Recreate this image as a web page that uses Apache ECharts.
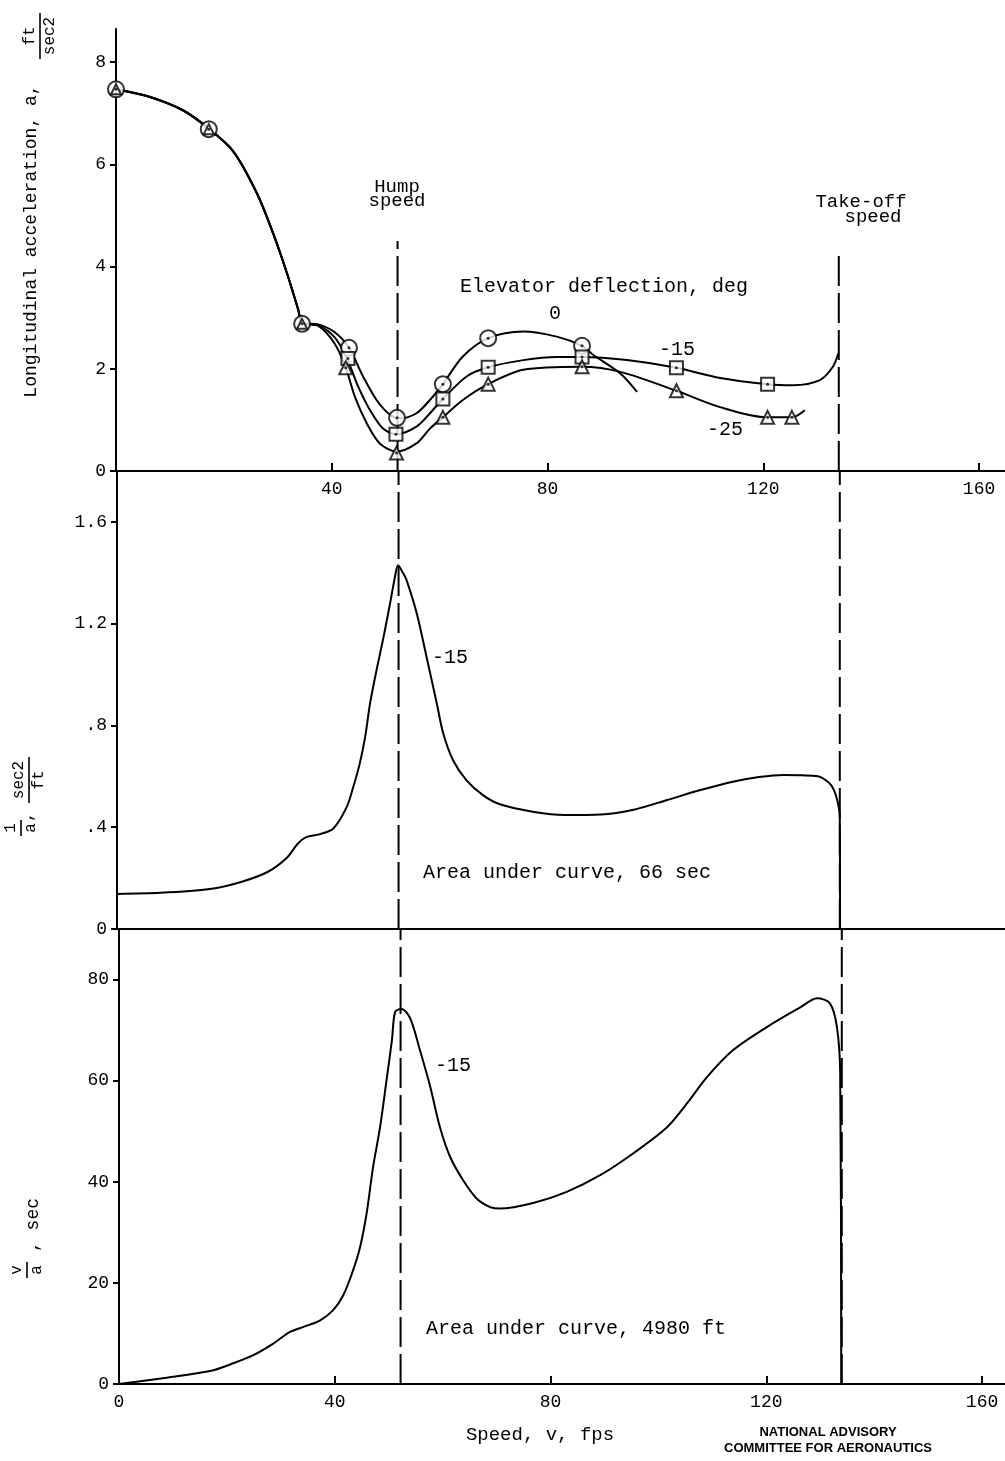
<!DOCTYPE html>
<html>
<head>
<meta charset="utf-8">
<script src="https://cdn.jsdelivr.net/npm/echarts@6/dist/echarts.min.js"></script>
<style>
html,body{margin:0;padding:0;background:#fff;}
#chart{width:1005px;height:1461px;}
</style>
</head>
<body>
<div id="chart"></div>
<script>
// ---------- DATA ----------
const HUMP_SPEED = 52.2;
const TAKEOFF_SPEED = 134;

// top panel: longitudinal acceleration a (ft/sec^2) vs speed v (fps)
const sharedCurve = [[0,7.47],[6.3,7.32],[12.4,7.06],[17.2,6.70],[21.7,6.26],[26.1,5.44],[29.1,4.66],[31.7,3.87],[33.8,3.15],[34.5,2.9]];
const curveDeg0 = [[37.5,2.87],[40.5,2.72],[43.2,2.41],[45.8,1.85],[48.3,1.39],[50.8,1.10],[52.6,1.03],[55.7,1.13],[58.2,1.39],[60.6,1.70],[64.3,2.24],[69,2.6],[75.5,2.73],[81.7,2.63],[86.4,2.45],[88.5,2.27],[93.5,1.91],[96.6,1.55]];
const curveDeg15 = [[37.5,2.85],[40.5,2.62],[42.8,2.21],[44.9,1.65],[47.1,1.19],[49.5,0.83],[52,0.72],[55.7,0.87],[58.2,1.13],[60.6,1.41],[65,1.85],[69,2.03],[75.5,2.17],[81.7,2.23],[86.4,2.23],[94.7,2.17],[103.9,2.02],[112,1.82],[120.8,1.70],[125.5,1.68],[130.5,1.78],[132.9,2.04],[133.9,2.3]];
const curveDeg25 = [[37.5,2.84],[40.5,2.5],[42.6,2.02],[44.3,1.45],[46.5,0.93],[48.9,0.54],[52,0.38],[55.7,0.54],[58.2,0.83],[60.6,1.05],[64.3,1.39],[69,1.70],[75.5,1.98],[86.4,2.04],[93.5,1.94],[103.9,1.57],[112,1.25],[120.8,1.05],[125.3,1.05],[127.7,1.19]];

const pointsDeg0 = [[0,7.47],[17.2,6.69],[34.5,2.88],[43.2,2.41],[52.1,1.04],[60.6,1.70],[69,2.6],[86.4,2.45]];
const pointsDeg15 = [[43,2.2],[51.9,0.72],[60.6,1.41],[69,2.03],[86.4,2.23],[103.9,2.02],[120.8,1.70]];
const pointsDeg25 = [[0,7.47],[17.2,6.69],[34.5,2.88],[42.6,2.02],[52,0.35],[60.6,1.05],[69,1.70],[86.4,2.04],[103.9,1.57],[120.8,1.05],[125.3,1.05]];
const sharedPointSpeeds = [0,17.2,34.5];

// middle panel: 1/a (sec^2/ft), -15 deg
const invAccel = [[0,0.138],[8,0.142],[17.2,0.157],[23,0.185],[28,0.225],[31.5,0.28],[33.5,0.335],[35,0.36],[37.5,0.372],[40.1,0.395],[42.6,0.48],[43.8,0.558],[45,0.65],[46,0.754],[46.9,0.885],[48.1,1.016],[49.4,1.146],[50.6,1.277],[51.5,1.38],[52.1,1.43],[53,1.40],[53.7,1.37],[55.6,1.238],[57.4,1.068],[59.3,0.885],[60.5,0.767],[62.3,0.663],[64.8,0.584],[67.9,0.525],[71,0.49],[77.3,0.46],[83,0.448],[89.7,0.45],[96,0.47],[102,0.507],[108,0.545],[114.4,0.58],[119,0.597],[123.6,0.605],[127,0.604],[129.9,0.60],[132,0.575],[132.9,0.547],[133.6,0.5],[134,0.44],[134.05,0]];

// bottom panel: v/a (sec), -15 deg
const velOverAccel = [[0,0],[8.8,1.25],[16.9,2.57],[21.2,4.1],[24.9,5.7],[28.6,8.0],[31.7,10.3],[34.2,11.3],[37.3,12.6],[39.7,14.6],[41.6,17.6],[43.4,22.5],[44.7,27.1],[45.9,33.7],[47.1,42.9],[48.4,50.8],[49.6,60.1],[50.6,68],[51.2,73.6],[52.4,74.2],[54,72.3],[55.8,66],[57.7,58.8],[59.5,50.8],[61.4,44.9],[63.8,40.3],[66.3,36.7],[68.8,35],[70.6,34.7],[76.8,35.8],[83,38],[89.2,41.3],[95.3,45.6],[101.6,50.8],[105.3,55.5],[109,60.7],[113.8,66],[120.1,70.6],[126.3,74.5],[129.4,76.3],[131.8,75.3],[133.1,70.6],[133.7,61.5],[133.9,0]];

// tick labels
const xTicks = [40,80,120,160];
const xLabelsTop = [40,80,120,160];
const xLabelsBottom = [0,40,80,120,160];
const yTicksTop = [0,2,4,6,8];
const yTicksMid = [0,0.4,0.8,1.2,1.6];
const yTickLabelsMid = ['0','.4','.8','1.2','1.6'];
const yTicksBottom = [0,20,40,60,80];

// ---------- CHART ----------
const FONT = '"Liberation Mono", "DejaVu Sans Mono", monospace';
const BLACK = '#000';
const chart = echarts.init(document.getElementById('chart'));

function xAxis(grid, left, ticks, labels) {
  return {
    type:'value', gridIndex:grid, min:0, max:(1005-left)/5.394,
    axisLine:{show:true, onZero:false, lineStyle:{color:BLACK, width:2}},
    axisTick:{show:ticks.length>0, inside:true, length:8, lineStyle:{color:BLACK,width:2}, customValues:ticks},
    axisLabel:{show:labels.length>0, customValues:labels, color:BLACK, fontFamily:FONT, fontSize:18, margin:9},
    splitLine:{show:false}
  };
}
function yAxis(grid, max, ticks, labels) {
  return {
    type:'value', gridIndex:grid, min:0, max:max,
    axisLine:{show:true, onZero:false, lineStyle:{color:BLACK, width:2}},
    axisTick:{show:true, inside:false, length:6, lineStyle:{color:BLACK,width:2}, customValues:ticks},
    axisLabel:{customValues:ticks, color:BLACK, fontFamily:FONT, fontSize:18, margin:10,
      formatter: function(v){ const i = ticks.findIndex(t=>Math.abs(t-v)<1e-6); return i>=0 ? labels[i] : ''; }},
    splitLine:{show:false}
  };
}
function curve(grid, data) {
  return {type:'line', xAxisIndex:grid, yAxisIndex:grid, data:data, smooth:0.3, showSymbol:false,
    lineStyle:{color:BLACK, width:2}, silent:true, z:3};
}
function vline(grid, x, ymax) {
  return {type:'line', xAxisIndex:grid, yAxisIndex:grid, data:[[x,0],[x,ymax]], showSymbol:false,
    lineStyle:{color:BLACK, width:2, type:[30,7]}, silent:true, z:2};
}
function markers(data, symbol, size, sharedSize) {
  return {type:'scatter', xAxisIndex:0, yAxisIndex:0, symbol:symbol,
    data:data.map(p => ({value:p, symbolSize: sharedPointSpeeds.includes(p[0]) ? sharedSize : size})),
    itemStyle:{color:'#fff', borderColor:BLACK, borderWidth:2}, z:5, silent:true};
}
const allPoints = pointsDeg0.concat(pointsDeg15).concat(pointsDeg25.filter(p=>!sharedPointSpeeds.includes(p[0])));

function txt(x, y, text, opts) {
  opts = opts || {};
  return {type:'text', x:x, y:y, rotation:opts.rot||0, z:10,
    style:{text:text, font:(opts.weight||'normal')+' '+(opts.size||19)+'px '+(opts.family||FONT), fill:BLACK,
      textAlign:opts.align||'left', textVerticalAlign:opts.valign||'middle', lineHeight:opts.lh}};
}
function frac(x, y, num, den, half, size) {
  return {type:'group', x:x, y:y, rotation:Math.PI/2, z:10, children:[
    {type:'text', x:0, y:-2, style:{text:num, font:size+'px '+FONT, fill:BLACK, textAlign:'center', textVerticalAlign:'bottom'}},
    {type:'line', shape:{x1:-half,y1:0,x2:half,y2:0}, style:{stroke:BLACK, lineWidth:1.6}},
    {type:'text', x:0, y:2, style:{text:den, font:size+'px '+FONT, fill:BLACK, textAlign:'center', textVerticalAlign:'top'}}
  ]};
}
const R = Math.PI/2;
const SANS = '"Liberation Sans", Arial, sans-serif';

const option = {
  animation:false,
  backgroundColor:'#fff',
  grid:[
    {left:116, top:29, width:889, height:442},
    {left:117, top:471, width:888, height:458},
    {left:119, top:929, width:886, height:455}
  ],
  xAxis:[ xAxis(0,116,xTicks,xLabelsTop), xAxis(1,117,[],[]), xAxis(2,119,xTicks,xLabelsBottom) ],
  yAxis:[ yAxis(0,8.65,yTicksTop,yTicksTop.map(String)), yAxis(1,1.8,yTicksMid,yTickLabelsMid), yAxis(2,90,yTicksBottom,yTicksBottom.map(String)) ],
  series:[
    vline(0,HUMP_SPEED,4.5), vline(0,TAKEOFF_SPEED,4.32),
    vline(1,HUMP_SPEED,1.8), vline(1,TAKEOFF_SPEED,1.8),
    vline(2,HUMP_SPEED,90), vline(2,TAKEOFF_SPEED,90),
    curve(0, sharedCurve.concat(curveDeg0)),
    curve(0, sharedCurve.concat(curveDeg15)),
    curve(0, sharedCurve.concat(curveDeg25)),
    curve(1, invAccel),
    curve(2, velOverAccel),
    markers(pointsDeg0,'circle',16,16),
    markers(pointsDeg15,'rect',13,13),
    markers(pointsDeg25,'triangle',13,10),
    {type:'scatter', xAxisIndex:0, yAxisIndex:0, data:allPoints, symbol:'circle', symbolSize:3,
      itemStyle:{color:BLACK}, z:6, silent:true}
  ],
  graphic:{elements:[
    // top panel texts
    txt(397,180,'Hump\nspeed',{align:'center',valign:'top',lh:14}),
    txt(861,202,'Take-off',{align:'center'}),
    txt(873,217,'speed',{align:'center'}),
    txt(460,287,'Elevator deflection, deg',{size:20}),
    txt(555,314,'0',{align:'center',size:20}),
    txt(677,350,'-15',{align:'center',size:20}),
    txt(725,430,'-25',{align:'center',size:20}),
    // middle panel texts
    txt(450,658,'-15',{align:'center',size:20}),
    txt(423,873,'Area under curve, 66 sec',{size:20}),
    // bottom panel texts
    txt(453,1066,'-15',{align:'center',size:20}),
    txt(426,1329,'Area under curve, 4980 ft',{size:20}),
    txt(540,1435,'Speed, v, fps',{align:'center'}),
    txt(828,1432,'NATIONAL ADVISORY',{align:'center',size:13,weight:'bold',family:SANS}),
    txt(828,1448,'COMMITTEE FOR AERONAUTICS',{align:'center',size:13,weight:'bold',family:SANS}),
    // y-axis titles
    txt(31,241,'Longitudinal acceleration, a,',{align:'center',rot:R,size:18}),
    frac(40,36,'ft','sec2',23,16),
    frac(21,828,'1','a',8,16),
    txt(28,817,',',{align:'center',rot:R,size:16}),
    frac(29,780,'sec2','ft',23,16),
    frac(27,1270,'v','a',8,16),
    txt(33,1225,', sec',{align:'center',rot:R,size:18})
  ]}
};
chart.setOption(option);
</script>
</body>
</html>
